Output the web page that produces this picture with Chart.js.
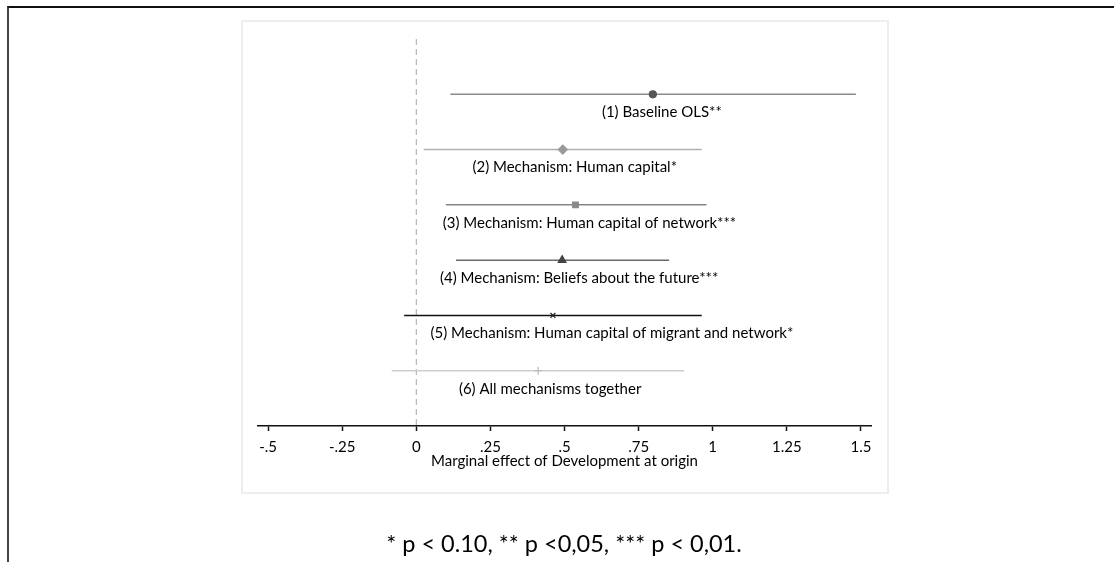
<!DOCTYPE html>
<html lang="en">
<head>
<meta charset="UTF-8">
<title>Marginal effect of Development at origin</title>
<style>
  html, body { margin: 0; padding: 0; background: #fff; }
  #page { position: relative; width: 1114px; height: 562px; overflow: hidden; font-family: Lato, "Open Sans", sans-serif; }
  #frame { position: absolute; left: 7px; top: 6px; right: 0; bottom: -4px; border-top: 2px solid #111; border-left: 2px solid #444; }
  #panel { position: absolute; left: 241px; top: 20px; width: 644px; height: 470px; border: 2px solid #eeeeee; background: #fff; }
  #chart { position: absolute; left: 0; top: 0; }
  #note { position: absolute; left: 0; width: 1128px; top: 528px; text-align: center; font-size: 23.5px; line-height: 30px; color: #000; }
</style>
</head>
<body>
<div id="page">
  <div id="frame"></div>
  <div id="panel"></div>
  <canvas id="chart" width="1114" height="562"></canvas>
  <div id="note">* p &lt; 0.10, ** p &lt;0,05, *** p &lt; 0,01.</div>
</div>
<script src="https://cdn.jsdelivr.net/npm/chart.js"></script>
<script>
// model labels, point estimates and confidence bounds
const models = [
  '(1) Baseline OLS**',
  '(2) Mechanism: Human capital*',
  '(3) Mechanism: Human capital of network***',
  '(4) Mechanism: Beliefs about the future***',
  '(5) Mechanism: Human capital of migrant and network*',
  '(6) All mechanisms together'
];
const coef   = [0.798, 0.494, 0.537, 0.492, 0.461, 0.411];
const ciLow  = [0.115, 0.025, 0.100, 0.134, -0.041, -0.083];
const ciHigh = [1.483, 0.963, 0.979, 0.853, 0.963, 0.904];

const tickValues = [-0.5, -0.25, 0, 0.25, 0.5, 0.75, 1, 1.25, 1.5];
const tickLabels = ['-.5', '-.25', '0', '.25', '.5', '.75', '1', '1.25', '1.5'];

// look of each row
const lineColors  = ['#8a8a8a', '#b0b0b0', '#858585', '#6a6a6a', '#111111', '#cfcfcf'];
const markColors  = ['#555555', '#9a9a9a', '#8a8a8a', '#444444', '#222222', '#bbbbbb'];
const markStyles  = ['circle', 'rectRot', 'rect', 'triangle', 'crossRot', 'cross'];
const markSizes   = [3.5, 4.5, 4, 4.5, 3.5, 4];
const labelShift  = [9, 12, 14, 17, 59, 12];

const datasets = [];
models.forEach((m, i) => {
  datasets.push({
    data: [{x: ciLow[i], y: i + 1}, {x: ciHigh[i], y: i + 1}],
    showLine: true, borderColor: lineColors[i], borderWidth: 1.5,
    pointRadius: 0, order: 2
  });
  datasets.push({
    data: [{x: coef[i], y: i + 1}],
    pointStyle: markStyles[i], pointRadius: markSizes[i],
    backgroundColor: markColors[i], borderColor: markColors[i], borderWidth: 1.2,
    order: 1
  });
});
// reference line at zero
datasets.push({
  data: [{x: 0, y: 0}, {x: 0, y: 7}],
  showLine: true, borderColor: '#a8a8a8', borderWidth: 1, borderDash: [6, 4],
  pointRadius: 0, order: 3
});

const rowLabels = {
  id: 'rowLabels',
  afterDatasetsDraw(chart) {
    const {ctx, scales} = chart;
    ctx.save();
    ctx.font = '15px Lato';
    ctx.fillStyle = '#000';
    ctx.textAlign = 'center';
    ctx.textBaseline = 'middle';
    models.forEach((m, i) => {
      const x = scales.x.getPixelForValue(coef[i]) + labelShift[i];
      const y = scales.y.getPixelForValue(i + 1) + 18;
      ctx.fillText(m, x, y);
    });
    ctx.restore();
  }
};

new Chart(document.getElementById('chart'), {
  type: 'scatter',
  data: { datasets },
  plugins: [rowLabels],
  options: {
    responsive: false,
    animation: false,
    events: [],
    layout: { padding: { left: 258, right: 243, top: 39, bottom: 92 } },
    plugins: { legend: { display: false }, tooltip: { enabled: false } },
    scales: {
      x: {
        type: 'linear', min: -0.534, max: 1.534,
        afterBuildTicks: s => { s.ticks = tickValues.map(v => ({value: v})); },
        afterFit: s => { s.height = 44; },
        border: { color: '#111', width: 1.5 },
        grid: { drawOnChartArea: false, tickLength: 5, color: '#111', tickWidth: 1.5 },
        ticks: {
          color: '#000', font: { family: 'Lato', size: 15 }, padding: 7,
          maxRotation: 0, autoSkip: false,
          callback: (v, idx) => tickLabels[idx]
        },
        title: {
          display: true, text: 'Marginal effect of Development at origin',
          color: '#000', font: { family: 'Lato', size: 15 }, padding: 0
        }
      },
      y: { type: 'linear', min: 0, max: 7, reverse: true, display: false }
    }
  }
});
</script>
</body>
</html>
